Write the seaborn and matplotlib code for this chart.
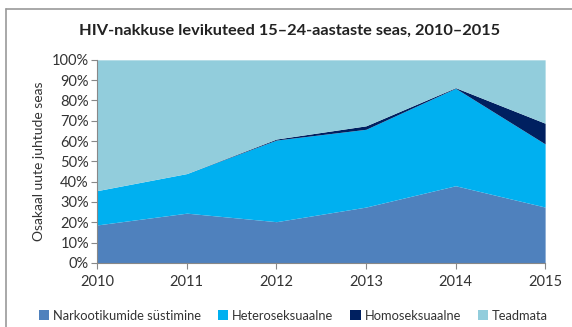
import matplotlib
matplotlib.use("Agg")
import matplotlib.pyplot as plt
import seaborn as sns
import numpy as np
import pandas as pd
from matplotlib.lines import Line2D
from matplotlib.patches import Patch

years = [2010, 2011, 2012, 2013, 2014, 2015]
narko = [18.7, 24.5, 20.3, 27.5, 38.0, 27.5]
hetero = [16.9, 19.5, 40.2, 38.3, 48.0, 31.1]
homo = [0.0, 0.0, 0.5, 1.7, 0.3, 10.2]
teadmata = [100 - a - b - c for a, b, c in zip(narko, hetero, homo)]
series_names = ["Narkootikumide süstimine", "Heteroseksuaalne", "Homoseksuaalne", "Teadmata"]
colors = ["#4F81BD", "#00B0F0", "#002060", "#92CDDC"]
title = "HIV-nakkuse levikuteed 15–24-aastaste seas, 2010–2015"
ylabel = "Osakaal uute juhtude seas"

df = pd.DataFrame({"Aasta": years, series_names[0]: narko, series_names[1]: hetero,
                   series_names[2]: homo, series_names[3]: teadmata})

sns.set_theme(style="white")
plt.rcParams["font.family"] = ["Lato", "DejaVu Sans"]

fig = plt.figure(figsize=(5.72, 3.27), dpi=100)
ax = fig.add_axes([0.170, 0.196, 0.783, 0.621])
ax.stackplot(df["Aasta"], [df[n] for n in series_names], colors=colors, linewidth=0)

ax.set_xlim(2010, 2015)
ax.set_ylim(0, 100)
ax.set_yticks(np.arange(0, 101, 10))
ax.set_yticklabels([f"{v}%" for v in range(0, 101, 10)], fontsize=10.5, color="#333333")
ax.set_xticks(years)
ax.set_xticklabels([str(y) for y in years], fontsize=10.5, color="#333333")
ax.tick_params(axis="y", length=4, width=0.8, color="#888888", left=True, pad=2)
ax.tick_params(axis="x", length=4, width=0.8, color="#888888", bottom=True, pad=5)
for s in ["top", "right"]:
    ax.spines[s].set_visible(False)
for s in ["left", "bottom"]:
    ax.spines[s].set_color("#888888")
    ax.spines[s].set_linewidth(0.8)
ax.set_ylabel(ylabel, fontsize=10, color="#333333", labelpad=5)

fig.text(0.507, 0.905, title, ha="center", va="center", fontsize=11.8, fontweight="bold", color="#222222")

handles = [Patch(facecolor=c, edgecolor="none") for c in colors]
fig.legend(handles, series_names, loc="center", bbox_to_anchor=(0.513, 0.035), ncol=4,
           frameon=False, fontsize=9.3, handlelength=0.8, handleheight=0.8,
           handletextpad=0.3, columnspacing=1.3, labelcolor="#333333")

# outer frame
fig.add_artist(Line2D([0.011, 0.011], [0, 0.973], transform=fig.transFigure, color="#999999", lw=1.2))
fig.add_artist(Line2D([0.011, 1.0], [0.973, 0.973], transform=fig.transFigure, color="#999999", lw=1.2))

fig.savefig("out.png", dpi=100)
